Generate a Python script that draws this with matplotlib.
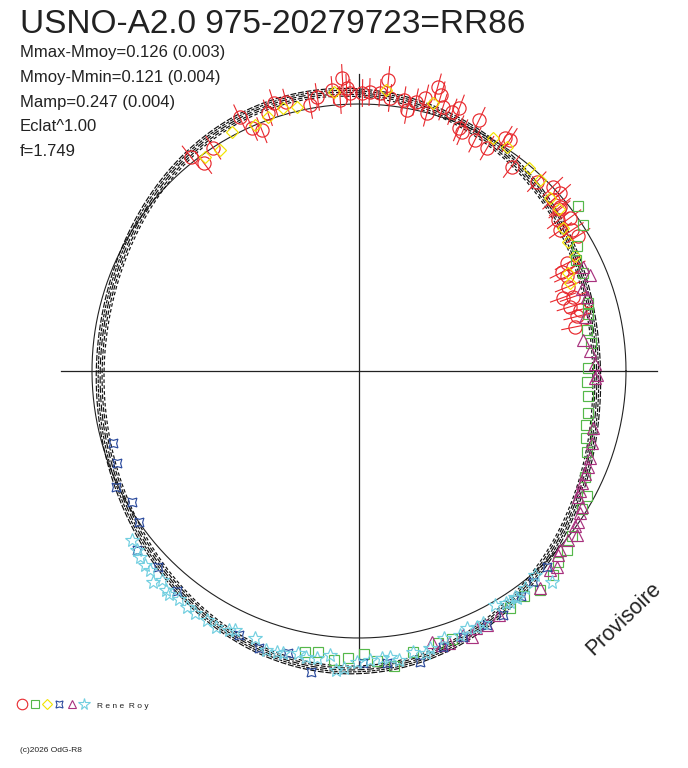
import numpy as np
import matplotlib
matplotlib.use("Agg")
import matplotlib.pyplot as plt

plt.rcParams['font.family'] = ['Liberation Sans', 'DejaVu Sans']

# phase (0..1, clockwise from top) and magnitude minus mean magnitude, per observer series
red_phase = [0.894, 0.898, 0.908, 0.930, 0.934, 0.939, 0.946, 0.951, 0.958, 0.971,
             0.976, 0.985, 0.989, 0.991, 0.993, 0.995, 0.002, 0.006, 0.012, 0.016,
             0.018, 0.026, 0.029, 0.033, 0.038, 0.041, 0.043, 0.046, 0.049, 0.055,
             0.058, 0.062, 0.065, 0.071, 0.074, 0.083, 0.089, 0.092, 0.102, 0.120,
             0.129, 0.135, 0.135, 0.141, 0.142, 0.147, 0.150, 0.153, 0.157, 0.162,
             0.174, 0.178, 0.178, 0.182, 0.189, 0.195, 0.197, 0.203, 0.207, 0.211,
             0.218]
red_dm = [-0.023, 0.029, 0.002, -0.056, 0.006, 0.030, -0.028, -0.060, -0.047, -0.014,
          -0.042, -0.063, -0.019, -0.109, -0.067, -0.046, -0.045, -0.050, -0.049, -0.105,
          -0.032, -0.031, 0.007, -0.032, -0.057, 0.001, -0.114, -0.087, -0.041, -0.035,
          -0.061, 0.019, 0.028, -0.048, 0.035, 0.041, -0.033, -0.037, 0.049, 0.030,
          -0.002, -0.006, 0.035, 0.031, 0.039, 0.071, 0.026, 0.088, 0.048, 0.038,
          0.134, 0.169, 0.120, 0.159, 0.172, 0.206, 0.167, 0.191, 0.155, 0.174,
          0.192]
red_err = 0.055

yellow_phase = [0.901, 0.911, 0.922, 0.936, 0.945, 0.955, 0.963, 0.986, 0.015, 0.043,
                0.083, 0.093, 0.111, 0.121, 0.133, 0.142, 0.153, 0.162, 0.172, 0.180,
                0.187]
yellow_dm = [0.014, 0.024, -0.015, 0.000, -0.012, -0.029, -0.017, -0.054, -0.063, -0.045,
             -0.007, -0.006, 0.007, 0.016, 0.038, 0.039, 0.074, 0.088, 0.090, 0.149,
             0.158]

green_phase = [0.147, 0.158, 0.167, 0.175, 0.184, 0.204, 0.211, 0.222, 0.231, 0.248,
               0.258, 0.267, 0.279, 0.287, 0.296, 0.304, 0.320, 0.330, 0.338, 0.355,
               0.363, 0.372, 0.379, 0.390, 0.399, 0.410, 0.447, 0.455, 0.470, 0.481,
               0.490, 0.497, 0.506, 0.514, 0.523, 0.530]
green_dm = [-0.030, -0.002, 0.063, 0.096, 0.093, 0.116, 0.127, 0.145, 0.137, 0.156,
            0.159, 0.151, 0.141, 0.139, 0.125, 0.103, 0.070, 0.029, 0.018, -0.012,
            -0.030, -0.036, -0.057, -0.070, -0.049, -0.058, -0.069, -0.066, -0.079, -0.124,
            -0.097, -0.066, -0.083, -0.095, -0.069, -0.079]

magenta_phase = [0.181, 0.187, 0.194, 0.200, 0.213, 0.228, 0.236, 0.245, 0.253, 0.255,
                 0.288, 0.298, 0.307, 0.313, 0.318, 0.324, 0.329, 0.333, 0.337, 0.341,
                 0.346, 0.349, 0.353, 0.358, 0.366, 0.369, 0.374, 0.378, 0.389, 0.417,
                 0.426, 0.432, 0.436, 0.440, 0.449, 0.453, 0.458]
magenta_dm = [0.082, 0.069, 0.122, 0.112, 0.142, 0.168, 0.144, 0.127, 0.119, 0.127,
              0.108, 0.095, 0.083, 0.077, 0.078, 0.072, 0.066, 0.059, 0.024, 0.018,
              0.004, 0.007, -0.024, -0.007, -0.009, -0.016, -0.048, -0.036, -0.064, -0.057,
              -0.072, -0.065, -0.092, -0.069, -0.081, -0.081, -0.056]

blue_phase = [0.705, 0.692, 0.679, 0.667, 0.654, 0.642, 0.627, 0.610, 0.568, 0.555,
              0.539, 0.525, 0.498, 0.485, 0.467, 0.453, 0.441, 0.426, 0.415, 0.401,
              0.390, 0.378]
blue_dm = [0.044, 0.033, -0.009, 0.020, 0.001, -0.075, -0.054, -0.076, -0.095, -0.112,
           -0.098, -0.155, -0.103, -0.108, -0.125, -0.088, -0.077, -0.072, -0.067, -0.043,
           -0.027, -0.019]

cyan_phase = [0.648, 0.642, 0.638, 0.633, 0.629, 0.623, 0.620, 0.615, 0.612, 0.606,
              0.600, 0.595, 0.587, 0.581, 0.574, 0.571, 0.559, 0.551, 0.545, 0.542,
              0.534, 0.529, 0.523, 0.516, 0.512, 0.508, 0.501, 0.494, 0.487, 0.483,
              0.478, 0.470, 0.463, 0.460, 0.451, 0.442, 0.437, 0.431, 0.427, 0.416,
              0.410, 0.408, 0.404, 0.403, 0.396, 0.387, 0.382]
cyan_dm = [-0.066, -0.075, -0.084, -0.090, -0.089, -0.115, -0.083, -0.105, -0.107, -0.097,
           -0.103, -0.104, -0.102, -0.106, -0.095, -0.083, -0.080, -0.110, -0.106, -0.103,
           -0.089, -0.098, -0.094, -0.076, -0.135, -0.125, -0.099, -0.091, -0.086, -0.085,
           -0.102, -0.078, -0.093, -0.078, -0.053, -0.065, -0.049, -0.061, -0.057, -0.015,
           -0.034, -0.037, -0.031, -0.039, -0.026, -0.010, -0.078]

# fitted light curve, read at a few phases
curve_phase = [0.000, 0.033, 0.081, 0.111, 0.133, 0.164, 0.203, 0.250, 0.278, 0.320,
               0.356, 0.392, 0.431, 0.461, 0.500, 0.540, 0.569, 0.603, 0.627, 0.647,
               0.691, 0.732, 0.775, 0.806, 0.850, 0.889, 0.936, 0.969]
curve_dm = [-0.045, -0.025, 0.010, 0.035, 0.060, 0.086, 0.115, 0.119, 0.110, 0.075,
            0.033, -0.015, -0.068, -0.115, -0.128, -0.125, -0.100, -0.080, -0.060, -0.010,
            0.008, 0.035, 0.030, 0.018, 0.010, -0.030, -0.065, -0.050]
curve_spread = [-0.016, -0.008, 0.0, 0.008, 0.016]

title = "USNO-A2.0 975-20279723=RR86"
info_lines = ["Mmax-Mmoy=0.126 (0.003)", "Mmoy-Mmin=0.121 (0.004)",
              "Mamp=0.247 (0.004)", "Eclat^1.00", "f=1.749"]

MAG_SCALE = 0.91   # radius units per magnitude (reference circle = mean magnitude)


def to_xy(phase, dm):
    ang = 2 * np.pi * np.asarray(phase)
    r = 1.0 - MAG_SCALE * np.asarray(dm)
    return r * np.sin(ang), r * np.cos(ang)


def fourier_fit(ph, y, order, grid):
    ph = np.asarray(ph)
    cols = [np.ones_like(ph)]
    gcols = [np.ones_like(grid)]
    for k in range(1, order + 1):
        cols += [np.cos(2 * np.pi * k * ph), np.sin(2 * np.pi * k * ph)]
        gcols += [np.cos(2 * np.pi * k * grid), np.sin(2 * np.pi * k * grid)]
    coef, *_ = np.linalg.lstsq(np.column_stack(cols), np.asarray(y), rcond=None)
    return np.column_stack(gcols) @ coef


fig = plt.figure(figsize=(6.88, 7.68), dpi=100)
ax = fig.add_axes([0, 0, 1, 1])
ax.set_xlim(-359 / 267, 329 / 267)
ax.set_ylim(-397 / 267, 371 / 267)
ax.axis('off')

# reference circle and axes
t = np.linspace(0, 2 * np.pi, 400)
ax.plot(np.cos(t), np.sin(t), color='#222222', lw=0.8, zorder=1)
ax.plot([-1.117, 1.117], [0, 0], color='#222222', lw=0.9, zorder=1)
ax.plot([0, 0], [-1.11, 1.113], color='#222222', lw=0.9, zorder=1)

# fitted curves
grid = np.linspace(0, 1, 600)
fit = fourier_fit(curve_phase, curve_dm, 5, grid)
dashes = [(0, (5, 1.5)), (0, (3, 1)), (0, (6, 2)), (2, (4, 1.5)), (1, (3, 2))]
for off, ls in zip(curve_spread, dashes):
    x, y = to_xy(grid, fit + off)
    ax.plot(x, y, color='#111111', lw=0.85, ls=ls, zorder=2)

# red error bars (radial)
for p, d in zip(red_phase, red_dm):
    x, y = to_xy([p, p], [d - red_err, d + red_err])
    ax.plot(x, y, color='#e8282d', lw=0.8, zorder=3)

red_s = (red_phase, red_dm, 'o', '#e8282d', 9.5)
yellow_s = (yellow_phase, yellow_dm, 'D', '#f2e400', 6.5)
green_s = (green_phase, green_dm, 's', '#55b84a', 6.5)
magenta_s = (magenta_phase, magenta_dm, '^', '#a8327e', 8)
blue_s = (blue_phase, blue_dm, (4, 1, 45), '#2d4c9e', 9)
cyan_s = (cyan_phase, cyan_dm, '*', '#72cfe0', 10.5)

for ph, dm, mk, col, ms in [red_s, yellow_s, green_s, magenta_s, blue_s, cyan_s]:
    x, y = to_xy(ph, dm)
    ax.plot(x, y, ls='none', marker=mk, mfc='none', mec=col, ms=ms, mew=0.85, zorder=4)

# texts
fig.text(20 / 688, 1 - 33 / 768, title, fontsize=24, color='#222222', va='baseline')
for i, line in enumerate(info_lines):
    fig.text(20 / 688, 1 - (57 + 24.8 * i) / 768, line, fontsize=12,
             color='#222222', va='baseline')

fig.text(624 / 688, 1 - 619 / 768, "Provisoire", fontsize=15.5, rotation=44,
         ha='center', va='center', color='#222222')

# legend
leg_x = [22, 35, 47, 59, 72, 84]
for (ph, dm, mk, col, ms), lx in zip([red_s, green_s, yellow_s, blue_s, magenta_s, cyan_s], leg_x):
    ax.plot([lx / 688], [1 - 704 / 768], transform=fig.transFigure, ls='none',
            marker=mk, mfc='none', mec=col, ms=ms * 0.8, mew=0.8)
fig.text(97 / 688, 1 - 708 / 768, "R e n e  R o y", fontsize=6, color='#222222',
         va='baseline')
fig.text(20 / 688, 1 - 752 / 768, "(c)2026 OdG-R8", fontsize=6, color='#222222',
         va='baseline')

fig.savefig("out.png", dpi=100)
